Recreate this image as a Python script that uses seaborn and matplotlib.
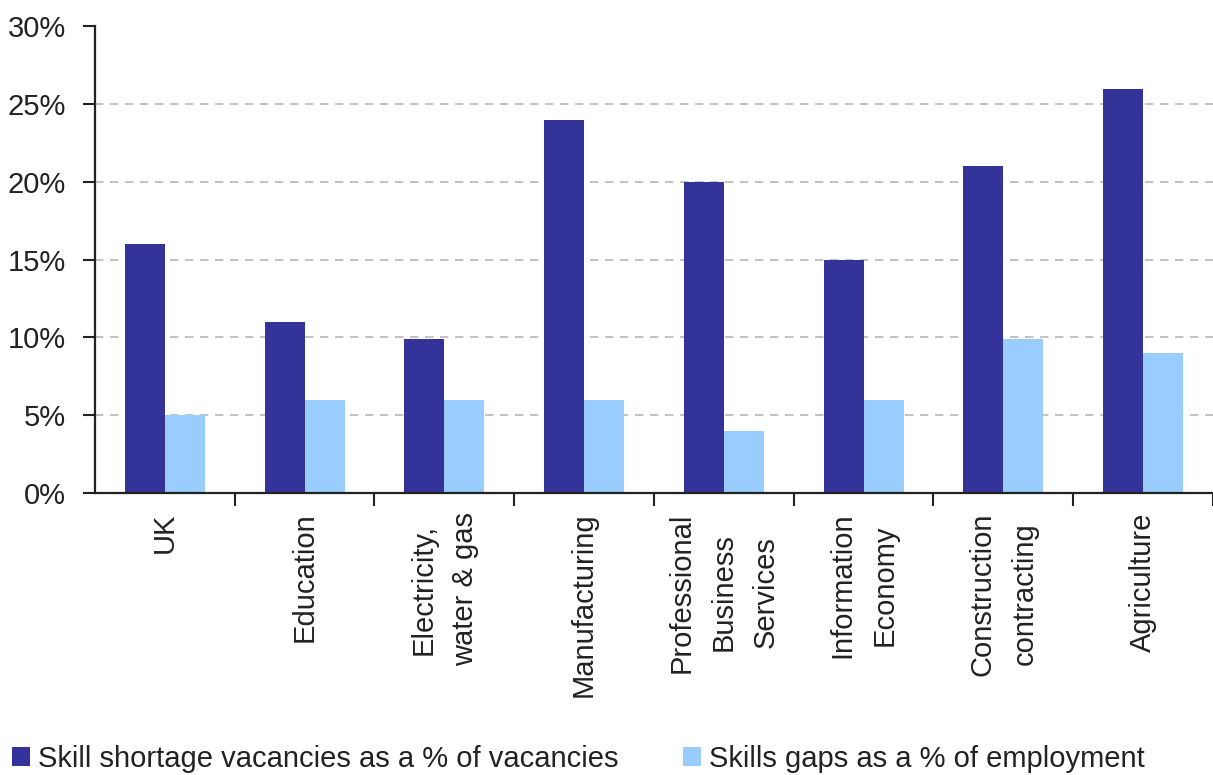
import matplotlib
matplotlib.use("Agg")
import matplotlib.pyplot as plt
import matplotlib.patches as mpatches
from matplotlib.ticker import FixedLocator, PercentFormatter
import seaborn as sns
import pandas as pd

# Sector labels and the two survey measures (percent)
sectors = ["UK", "Education", "Electricity,\nwater & gas", "Manufacturing",
           "Professional\nBusiness\nServices", "Information\nEconomy",
           "Construction\ncontracting", "Agriculture"]
shortage_pct = [16, 11, 9.9, 24, 20, 15, 21, 26]
gaps_pct = [5, 6, 6, 6, 4, 6, 9.9, 9]
series_names = ["Skill shortage vacancies as a % of vacancies",
                "Skills gaps as a % of employment"]
y_ticks = [0, 5, 10, 15, 20, 25, 30]

df = pd.DataFrame({
    "sector": sectors * 2,
    "value": shortage_pct + gaps_pct,
    "series": [series_names[0]] * len(sectors) + [series_names[1]] * len(sectors),
})

sns.set_theme(style="white")
plt.rcParams["font.family"] = ["Liberation Sans", "DejaVu Sans"]
palette = {series_names[0]: "#333399", series_names[1]: "#99CCFF"}
text_size = 21

fig = plt.figure(figsize=(12.13, 7.75), dpi=100)
ax = fig.add_axes([0.0783, 0.364, 0.9217, 0.602])

sns.barplot(data=df, x="sector", y="value", hue="series", order=sectors,
            hue_order=series_names, palette=palette, width=0.572,
            saturation=1, edgecolor="none", ax=ax, legend=False)

ax.set_xlim(-0.5, len(sectors) - 0.5)
ax.set_ylim(0, 30)
ax.set_xlabel("")
ax.set_ylabel("")

# Dashed horizontal gridlines
for y in y_ticks[1:-1]:
    ax.axhline(y, color="#b8b8b8", lw=1.2, ls=(0, (5, 4)), zorder=0)
ax.set_axisbelow(True)

ax.yaxis.set_major_locator(FixedLocator(y_ticks))
ax.yaxis.set_major_formatter(PercentFormatter(decimals=0))
ax.tick_params(axis="y", which="major", direction="out", length=9, width=1.5,
               color="#222222", labelsize=text_size, labelcolor="#222222", pad=12,
               left=True)

# Category labels at group centres, tick marks on the group boundaries
ax.set_xticks(range(len(sectors)))
ax.set_xticklabels(sectors, rotation=90, ha="center", va="top",
                   multialignment="center", linespacing=1.65,
                   fontsize=text_size, color="#222222")
ax.xaxis.set_minor_locator(FixedLocator([i + 0.5 for i in range(len(sectors))]))
ax.tick_params(axis="x", which="major", length=0, pad=14)
ax.tick_params(axis="x", which="minor", direction="out", length=9, width=1.5,
               color="#222222", bottom=True)

for side in ("top", "right"):
    ax.spines[side].set_visible(False)
for side in ("left", "bottom"):
    ax.spines[side].set_color("#222222")
    ax.spines[side].set_linewidth(1.6)

handles = [mpatches.Patch(facecolor=palette[n], edgecolor="none") for n in series_names]
fig.legend(handles, series_names, loc="center left", bbox_to_anchor=(0.0099, 0.0206),
           ncol=2, frameon=False, fontsize=text_size, handlelength=0.62,
           handleheight=0.62, handletextpad=0.27, columnspacing=2.2,
           labelcolor="#222222", borderpad=0, borderaxespad=0)

fig.savefig("out.png", dpi=100, facecolor="white")
